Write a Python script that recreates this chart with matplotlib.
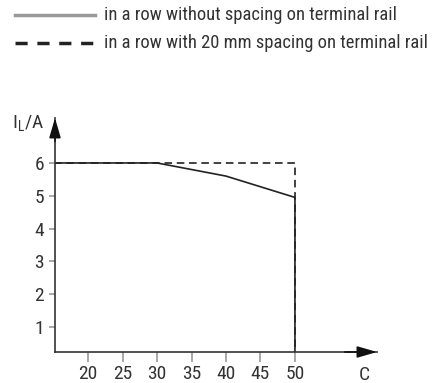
import matplotlib
matplotlib.use("Agg")
import matplotlib.pyplot as plt
from matplotlib.lines import Line2D
from matplotlib import font_manager

# Data
temp_no_spacing = [15, 30, 40, 50, 50]
current_no_spacing = [6.0, 6.0, 5.6, 4.95, 0.0]
temp_spacing = [15, 50, 50]
current_spacing = [6.0, 6.0, 0.0]
x_ticks = [20, 25, 30, 35, 40, 45, 50]
y_ticks = [1, 2, 3, 4, 5, 6]
legend_labels = ["in a row without spacing on terminal rail",
                 "in a row with 20 mm spacing on terminal rail"]

names = {f.name for f in font_manager.fontManager.ttflist}
cands = ["Roboto Condensed", "Archivo Narrow", "PT Sans Narrow", "Fira Sans Condensed",
         "Barlow Condensed", "Liberation Sans Narrow", "Encode Sans Condensed",
         "Asap Condensed", "Pragati Narrow", "DejaVu Sans"]
fam = next(c for c in cands if c in names)
plt.rcParams['font.family'] = [fam, 'DejaVu Sans']

W, H = 436, 383
fig = plt.figure(figsize=(W/100, H/100), dpi=100)

x0, x1 = 55, 377
y0, y1 = 352, 118  # from top
ax = fig.add_axes([x0/W, 1 - y0/H, (x1-x0)/W, (y0-y1)/H])
ax.set_xlim(15.2, 61.9)
ax.set_ylim(0.24, 7.37)

txt = "#333333"
ax.plot(temp_spacing, current_spacing, color="#333333", lw=1.3, ls=(0, (4.2, 2.6)))
ax.plot(temp_no_spacing, current_no_spacing, color="#222222", lw=1.2)

for s in ["top", "right"]:
    ax.spines[s].set_visible(False)
for s in ["left", "bottom"]:
    ax.spines[s].set_color("#333333")
    ax.spines[s].set_linewidth(1.2)

fs = 14
ax.set_xticks(x_ticks)
ax.set_yticks(y_ticks)
ax.tick_params(axis="x", direction="out", length=7, width=1.2, color="#999999",
               labelsize=fs, labelcolor=txt, pad=2.5)
ax.tick_params(axis="y", direction="out", length=4, width=1.2, color="#999999",
               labelsize=fs, labelcolor=txt, pad=4)

ax.annotate("", xy=(1.0, 0), xytext=(0.9, 0), xycoords="axes fraction",
            arrowprops=dict(arrowstyle="-|>,head_length=1.2,head_width=0.35",
                            color="#111111", lw=1.2, shrinkA=0, shrinkB=0))
ax.annotate("", xy=(0, 1.0), xytext=(0, 0.9), xycoords="axes fraction",
            arrowprops=dict(arrowstyle="-|>,head_length=1.2,head_width=0.35",
                            color="#111111", lw=1.2, shrinkA=0, shrinkB=0))

fig.text(364/W, 1 - 375/H, "C", fontsize=fs, color=txt, ha="center", va="center")
fig.text(12/W, 1 - 124/H, r"I$_{\mathregular{L}}$/A", fontsize=fs, color=txt,
         ha="left", va="center")

fig.add_artist(Line2D([15/W, 95/W], [1 - 15/H, 1 - 15/H], color="#999999", lw=2.5))
fig.add_artist(Line2D([15/W, 95/W], [1 - 43/H, 1 - 43/H], color="#222222", lw=2.5,
                      ls=(0, (3.5, 2.8))))
t1 = fig.text(104/W, 1 - 15/H, legend_labels[0], fontsize=fs, color=txt, va="center")
t2 = fig.text(104/W, 1 - 43/H, legend_labels[1], fontsize=fs, color=txt, va="center")

# fit legend text width to the reference (~293 px for the first line)
r = fig.canvas.get_renderer()
w = t1.get_window_extent(r).width
nfs = fs * 293.0 / w
t1.set_fontsize(nfs)
t2.set_fontsize(nfs)

fig.savefig("out.png", dpi=100)
